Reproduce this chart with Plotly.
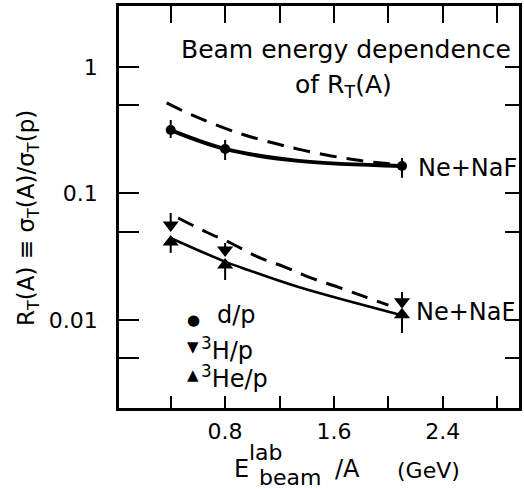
import plotly.graph_objects as go

# Beam energy per nucleon (GeV) for the Ne + NaF runs
energy = [0.4, 0.8, 2.1]

# d/p ratio with error-bar ends
d_p = [0.317, 0.225, 0.165]
d_p_hi = [0.381, 0.265, 0.191]
d_p_lo = [0.275, 0.184, 0.133]

# 3H/p ratio with upper error-bar end
h3_p = [0.0564, 0.0357, 0.0139]
h3_p_hi = [0.0701, 0.0406, 0.01665]

# 3He/p ratio with lower error-bar end
he3_p = [0.0414, 0.0272, 0.0110]
he3_p_lo = [0.0339, 0.0207, 0.00789]

# Model curves
upper_dash_x = [0.37, 0.55, 0.90, 1.17, 1.37, 1.58, 1.78, 1.97, 2.07]
upper_dash_y = [0.52, 0.42, 0.30, 0.248, 0.220, 0.198, 0.183, 0.173, 0.169]
upper_solid_x = [0.40, 0.80, 1.34, 2.10]
upper_solid_y = [0.317, 0.225, 0.181, 0.165]
lower_dash_x = [0.455, 0.66, 0.84, 1.04, 1.24, 1.43, 1.63, 1.83, 2.00]
lower_dash_y = [0.064, 0.0496, 0.0406, 0.0315, 0.0262, 0.0215, 0.0182, 0.0152, 0.0131]
lower_solid_x = [0.39, 0.79, 0.97, 1.34, 2.07]
lower_solid_y = [0.0449, 0.0292, 0.0248, 0.0182, 0.0111]

# Axis ticks
x_ticks = [0.4, 0.8, 1.2, 1.6, 2.0, 2.4, 2.8]
x_tick_text = ["", "0.8", "", "1.6", "", "2.4", ""]
y_ticks = [1, 0.5, 0.1, 0.05, 0.01, 0.005]
y_tick_text = ["1", "", "0.1", "", "0.01", ""]

FONT = "DejaVu Sans"
BLACK = "black"

fig = go.Figure()

for xs, ys, dash, w in [
    (upper_dash_x, upper_dash_y, "17px,10px", 3),
    (upper_solid_x, upper_solid_y, "solid", 4),
    (lower_dash_x, lower_dash_y, "17px,10px", 3),
    (lower_solid_x, lower_solid_y, "solid", 2.6),
]:
    fig.add_trace(go.Scatter(
        x=xs, y=ys, mode="lines",
        line=dict(color=BLACK, width=w, dash=dash, shape="spline", smoothing=1.0),
        hoverinfo="skip", showlegend=False,
    ))

fig.add_trace(go.Scatter(
    x=energy, y=d_p, mode="markers",
    marker=dict(symbol="circle", size=10, color=BLACK),
    error_y=dict(type="data", symmetric=False,
                 array=[h - v for h, v in zip(d_p_hi, d_p)],
                 arrayminus=[v - l for v, l in zip(d_p, d_p_lo)],
                 color=BLACK, thickness=2, width=0),
    showlegend=False,
))
fig.add_trace(go.Scatter(
    x=energy, y=h3_p, mode="markers",
    marker=dict(symbol="triangle-down", size=14, color=BLACK),
    error_y=dict(type="data", symmetric=False,
                 array=[h - v for h, v in zip(h3_p_hi, h3_p)],
                 arrayminus=[0, 0, 0],
                 color=BLACK, thickness=2, width=0),
    showlegend=False,
))
fig.add_trace(go.Scatter(
    x=energy, y=he3_p, mode="markers",
    marker=dict(symbol="triangle-up", size=14, color=BLACK),
    error_y=dict(type="data", symmetric=False,
                 array=[0, 0, 0],
                 arrayminus=[v - l for v, l in zip(he3_p, he3_p_lo)],
                 color=BLACK, thickness=2, width=0),
    showlegend=False,
))

x_range = [0.02, 2.96]
y_range = [-2.696, 0.482]

axis_common = dict(showgrid=False, zeroline=False, showline=True,
                   linecolor=BLACK, linewidth=2.5, ticks="inside",
                   tickcolor=BLACK, tickwidth=2,
                   tickfont=dict(family=FONT, size=22, color=BLACK))

fig.update_layout(
    width=524, height=489,
    margin=dict(l=119, r=5, t=6, b=81),
    paper_bgcolor="white", plot_bgcolor="white",
    font=dict(family=FONT, color=BLACK),
    xaxis=dict(range=x_range, tickvals=x_ticks, ticktext=x_tick_text,
               ticklen=12, ticklabelstandoff=2, **axis_common),
    xaxis2=dict(range=x_range, overlaying="x", side="top", anchor="y",
                matches="x", tickvals=x_ticks, showticklabels=False,
                ticklen=17, **axis_common),
    yaxis=dict(type="log", range=y_range, tickvals=y_ticks, ticktext=y_tick_text,
               ticklen=20, ticklabelstandoff=14, **axis_common),
    yaxis2=dict(type="log", range=y_range, overlaying="y", side="right",
                anchor="x", matches="y", tickvals=y_ticks,
                showticklabels=False, ticklen=14, **axis_common),
)

# empty trace so the top/right axes are drawn
fig.add_trace(go.Scatter(x=[None], y=[None], xaxis="x2", yaxis="y2",
                         showlegend=False, hoverinfo="skip"))

L, R, T, B = 119, 519, 6, 408


def px(text, x, y, size=24, xanchor="center", angle=0):
    """Place a text label by its pixel position in the figure."""
    fig.add_annotation(text=text, x=(x - L) / (R - L), y=(B - y) / (B - T),
                       xref="paper", yref="paper", xanchor=xanchor,
                       yanchor="middle", showarrow=False, textangle=angle,
                       font=dict(family=FONT, size=size, color=BLACK))


px("Beam energy dependence", 346, 50, size=25)
px("of R<sub>T</sub>(A)", 343, 86, size=25)
px("Ne+NaF", 416, 168, xanchor="left")
px("Ne+NaF", 414, 312, xanchor="left")

# Legend
px("●", 193, 320, size=15)
px("d/p", 215, 315, xanchor="left")
px("▼", 193, 347, size=15)
px("<sup>3</sup>H/p", 199, 349, xanchor="left")
px("▲", 193, 375, size=15)
px("<sup>3</sup>He/p", 199, 377, xanchor="left")

# Axis titles
px("E", 241, 469)
px("lab", 266, 452, size=22)
px("beam", 290, 477, size=22)
px("/A", 347, 469)
px("(GeV)", 428, 470, size=22)
px("R<sub>T</sub>(A) ≡ σ<sub>T</sub>(A)/σ<sub>T</sub>(p)", 28, 218, size=23, angle=-90)

fig.write_html("out.html")
